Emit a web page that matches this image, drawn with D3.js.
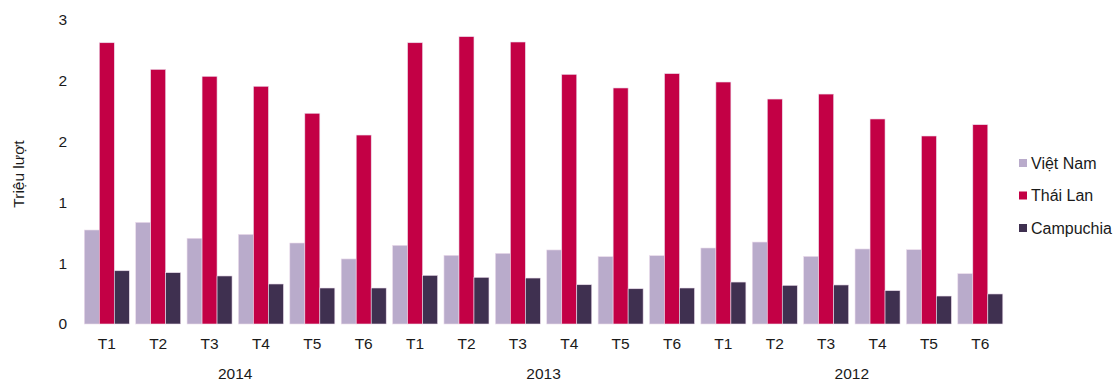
<!DOCTYPE html>
<html><head><meta charset="utf-8">
<script src="https://cdn.jsdelivr.net/npm/d3@7/dist/d3.min.js"></script>
<style>body{margin:0;background:#fff}svg{display:block;font-family:"Liberation Sans",Arial,sans-serif}</style>
</head><body><svg id="c" width="1115" height="381"></svg>
<script>
const years = ["2014","2013","2012"];
const months = ["T1","T2","T3","T4","T5","T6"];
const seriesNames = ["Việt Nam","Thái Lan","Campuchia"];
const seriesColors = ["#b9abcb","#c30045","#3f3050"];
const vietNam = [0.773,0.836,0.705,0.737,0.666,0.535, 0.647,0.565,0.581,0.609,0.554,0.562, 0.625,0.674,0.556,0.617,0.611,0.414];
const thaiLan = [2.313,2.094,2.037,1.955,1.733,1.554, 2.313,2.363,2.319,2.053,1.941,2.059, 1.990,1.850,1.891,1.686,1.546,1.639];
const campuchia = [0.438,0.422,0.395,0.329,0.296,0.296, 0.400,0.384,0.378,0.323,0.290,0.296, 0.345,0.318,0.321,0.274,0.230,0.247];
const yTicks = [0,0.5,1,1.5,2,2.5];
const yTickLabels = ["0","1","1","2","2","3"];

const svg = d3.select("#c");
const cats = [];
years.forEach(y => months.forEach(m => cats.push(y + "|" + m)));
const values = [vietNam, thaiLan, campuchia];

const x = d3.scaleBand().domain(cats).range([81.1, 1006]).paddingInner(0.124).paddingOuter(0.062);
const xs = d3.scaleBand().domain(d3.range(3)).range([0, x.bandwidth()]);
const y = d3.scaleLinear().domain([0, 2.5]).range([324, 20]);

cats.forEach((c, i) => {
  values.forEach((arr, s) => {
    svg.append("rect")
      .attr("x", x(c) + xs(s))
      .attr("y", y(arr[i]))
      .attr("width", xs.bandwidth())
      .attr("height", y(0) - y(arr[i]))
      .attr("fill", seriesColors[s])
      .attr("stroke", "#ecdcec").attr("stroke-width", 0.6);
  });
});

const fs = 15.5;
svg.append("g").selectAll("text").data(yTicks).join("text")
  .attr("x", 67).attr("y", d => y(d)).attr("dy", "0.35em")
  .attr("text-anchor", "end").attr("font-size", fs).attr("fill", "#1a1a1a")
  .text((d, i) => yTickLabels[i]);

svg.append("g").selectAll("text").data(cats).join("text")
  .attr("x", d => x(d) + x.bandwidth() / 2).attr("y", 343.5).attr("dy", "0.35em")
  .attr("text-anchor", "middle").attr("font-size", fs).attr("fill", "#1a1a1a")
  .text(d => d.split("|")[1]);

years.forEach((yr) => {
  const first = x(yr + "|" + months[0]);
  const last = x(yr + "|" + months[months.length - 1]) + x.bandwidth();
  svg.append("text").attr("x", (first + last) / 2).attr("y", 373.5).attr("dy", "0.35em")
    .attr("text-anchor", "middle").attr("font-size", fs).attr("fill", "#1a1a1a").text(yr);
});

svg.append("text").attr("transform", "translate(19,174) rotate(-90)")
  .attr("text-anchor", "middle").attr("dy", "0.35em").attr("font-size", fs).attr("fill", "#1a1a1a")
  .text("Triệu lượt");

const lg = svg.append("g");
seriesNames.forEach((n, i) => {
  const yy = 163 + i * 32.5;
  lg.append("rect").attr("x", 1019).attr("y", yy - 4).attr("width", 8).attr("height", 8)
    .attr("fill", seriesColors[i]);
  lg.append("text").attr("x", 1031).attr("y", yy).attr("dy", "0.35em")
    .attr("font-size", 16).attr("fill", "#1a1a1a").text(n);
});
</script></body></html>
